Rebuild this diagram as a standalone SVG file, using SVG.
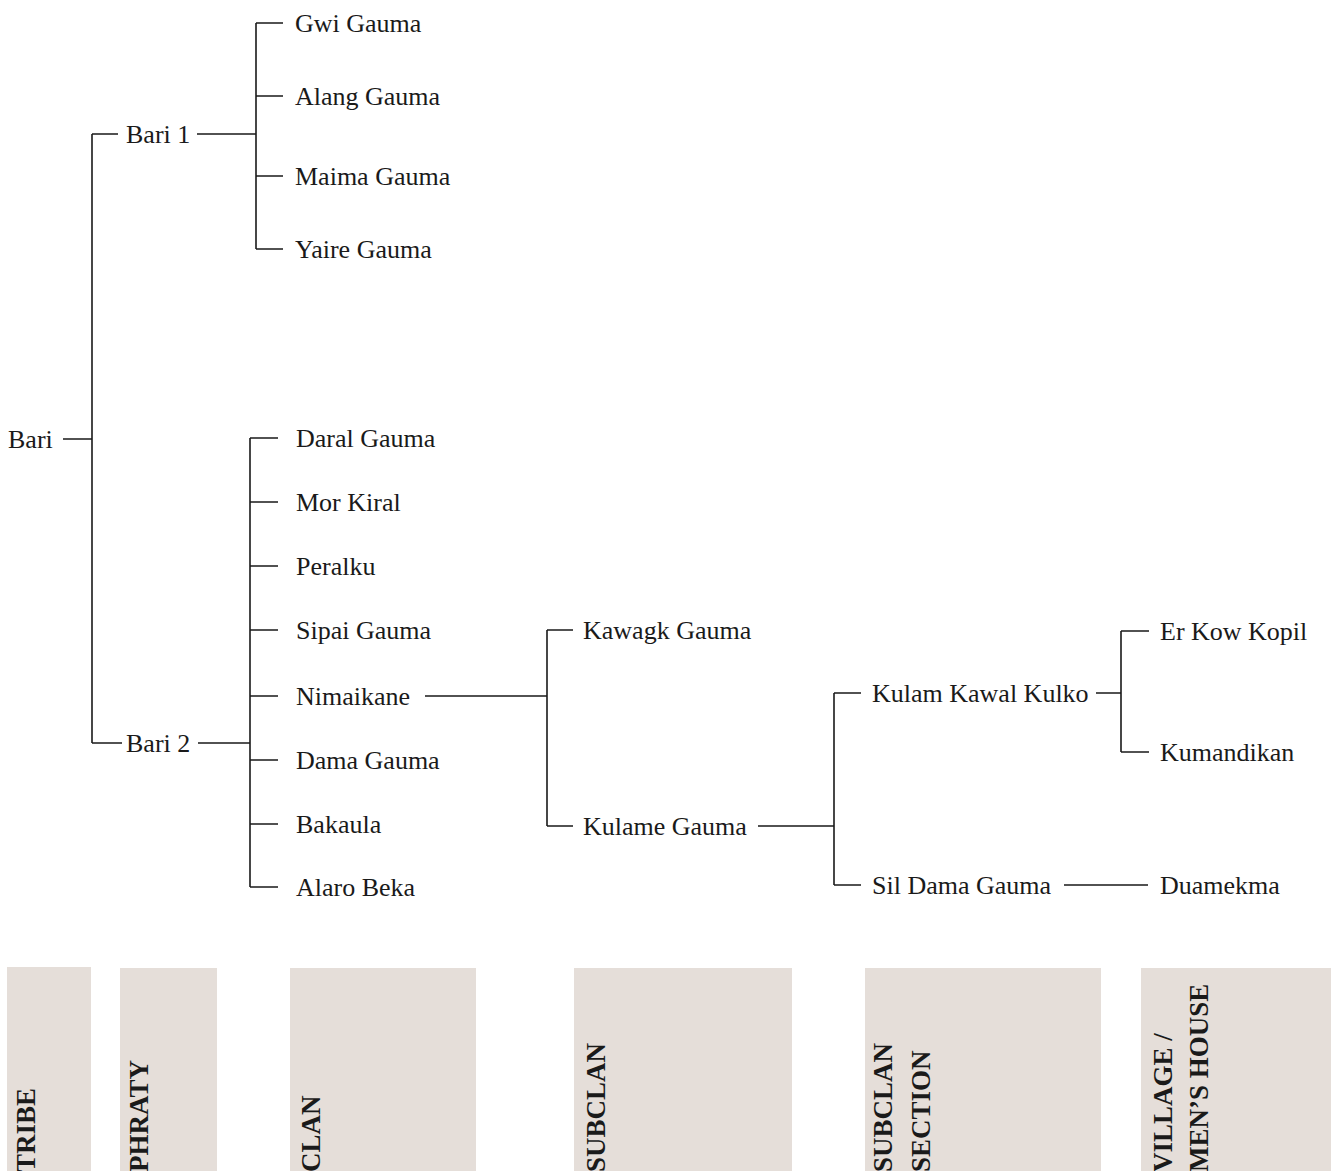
<svg xmlns="http://www.w3.org/2000/svg" width="1333" height="1171" viewBox="0 0 1333 1171">
<style>
.t{font-family:"Liberation Serif","Times New Roman",serif;font-size:26px;fill:#1a1a1a}
.h{font-family:"Liberation Serif","Times New Roman",serif;font-size:27px;font-weight:bold;fill:#1a1a1a}
.c{stroke:#1a1a1a;stroke-width:1.6;fill:none}
.b{fill:#e5ded9}
</style>
<rect width="1333" height="1171" fill="#ffffff"/>
<g id="legend">
<rect class="b" x="7" y="967" width="84" height="210"/>
<rect class="b" x="120" y="968" width="97" height="210"/>
<rect class="b" x="290" y="968" width="186" height="210"/>
<rect class="b" x="574" y="968" width="218" height="210"/>
<rect class="b" x="865" y="968" width="236" height="210"/>
<rect class="b" x="1141" y="968" width="190" height="210"/>
<text class="h" transform="translate(35,1172) rotate(-90)">TRIBE</text>
<text class="h" transform="translate(148,1172) rotate(-90)">PHRATY</text>
<text class="h" transform="translate(320,1172) rotate(-90)">CLAN</text>
<text class="h" transform="translate(605,1172) rotate(-90)">SUBCLAN</text>
<text class="h" transform="translate(892,1172) rotate(-90)">SUBCLAN</text>
<text class="h" transform="translate(930,1172) rotate(-90)">SECTION</text>
<text class="h" transform="translate(1172,1172) rotate(-90)">VILLAGE /</text>
<text class="h" transform="translate(1208,1172) rotate(-90)">MEN’S HOUSE</text>
</g>
<g id="connectors">
<path class="c" d="M63,439H92M92,134V743M92,134H118M197,134H256M256,23V249M256,23H283M256,96H283M256,176H283M256,249H283"/>
<path class="c" d="M92,743H122M198,743H250M250,438V887M250,438H278M250,502H278M250,566H278M250,630H278M250,696H278M250,760H278M250,824H278M250,887H278"/>
<path class="c" d="M425,696H547M547,630V826M547,630H573M547,826H573M758,826H834M834,693V885M834,693H861M834,885H861"/>
<path class="c" d="M1096,693H1121M1121,631V752M1121,631H1149M1121,752H1149M1064,885H1148"/>
</g>
<g id="n-bari"><text class="t" x="8" y="448">Bari</text></g>
<g id="n-bari1"><text class="t" x="126" y="143">Bari 1</text></g>
<g id="n-bari2"><text class="t" x="126" y="752">Bari 2</text></g>
<g id="n-gwi"><text class="t" x="295" y="32">Gwi Gauma</text></g>
<g id="n-alang"><text class="t" x="295" y="105">Alang Gauma</text></g>
<g id="n-maima"><text class="t" x="295" y="185">Maima Gauma</text></g>
<g id="n-yaire"><text class="t" x="295" y="258">Yaire Gauma</text></g>
<g id="n-daral"><text class="t" x="296" y="447">Daral Gauma</text></g>
<g id="n-mor"><text class="t" x="296" y="511">Mor Kiral</text></g>
<g id="n-peralku"><text class="t" x="296" y="575">Peralku</text></g>
<g id="n-sipai"><text class="t" x="296" y="639">Sipai Gauma</text></g>
<g id="n-nimaikane"><text class="t" x="296" y="705">Nimaikane</text></g>
<g id="n-dama"><text class="t" x="296" y="769">Dama Gauma</text></g>
<g id="n-bakaula"><text class="t" x="296" y="833">Bakaula</text></g>
<g id="n-alaro"><text class="t" x="296" y="896">Alaro Beka</text></g>
<g id="n-kawagk"><text class="t" x="583" y="639">Kawagk Gauma</text></g>
<g id="n-kulame"><text class="t" x="583" y="835">Kulame Gauma</text></g>
<g id="n-kulam"><text class="t" x="872" y="702">Kulam Kawal Kulko</text></g>
<g id="n-sildama"><text class="t" x="872" y="894">Sil Dama Gauma</text></g>
<g id="n-erkow"><text class="t" x="1160" y="640">Er Kow Kopil</text></g>
<g id="n-kumandikan"><text class="t" x="1160" y="761">Kumandikan</text></g>
<g id="n-duamekma"><text class="t" x="1160" y="894">Duamekma</text></g>
</svg>
